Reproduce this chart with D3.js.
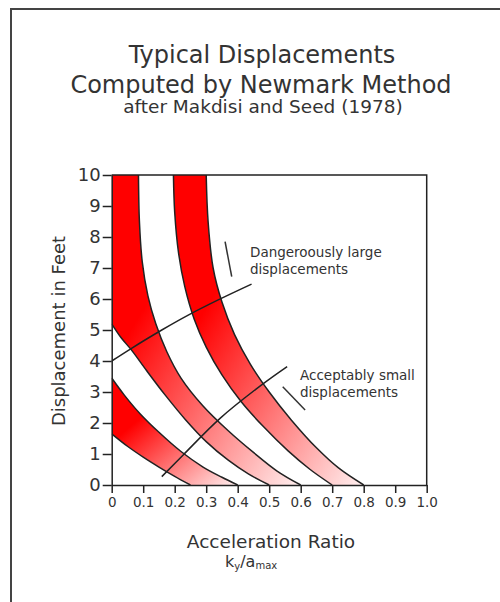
<!DOCTYPE html>
<html>
<head>
    <script src="https://d3js.org/d3.v7.min.js"></script>
    <style>
        body { margin: 0; background: #fff; }
        svg text { font-family: "DejaVu Sans", sans-serif; fill: #333; }
    </style>
</head>
<body>
    <div id="chart"></div>
    <script>
        // curve points: [ky/amax, displacement in feet]
        const band1Lower = [[0, 1.65], [0.05, 1.25], [0.1, 0.9], [0.15, 0.58], [0.2, 0.28], [0.25, 0]];
        const band1Upper = [[0, 3.45], [0.04, 2.9], [0.09, 2.3], [0.15, 1.7], [0.22, 1.08], [0.29, 0.58], [0.35, 0.25], [0.4, 0]];
        const band2Lower = [[0, 5.2], [0.03, 4.75], [0.063, 4.35], [0.11, 3.7], [0.17, 2.9], [0.235, 2.1], [0.3, 1.4], [0.37, 0.8], [0.435, 0.35], [0.5, 0]];
        const band2Upper = [[0.085, 10], [0.088, 8.5], [0.097, 7.2], [0.115, 6.1], [0.14, 5.2], [0.175, 4.3], [0.22, 3.45], [0.29, 2.55], [0.37, 1.75], [0.45, 1.05], [0.525, 0.45], [0.6, 0]];
        const band3Lower = [[0.196, 10], [0.2, 8.8], [0.212, 7.5], [0.232, 6.4], [0.262, 5.35], [0.3, 4.45], [0.35, 3.55], [0.41, 2.7], [0.48, 1.9], [0.56, 1.1], [0.63, 0.5], [0.7, 0]];
        const band3Upper = [[0.30, 10], [0.306, 8.5], [0.322, 7.0], [0.35, 5.9], [0.39, 4.85], [0.44, 3.9], [0.5, 3.0], [0.57, 2.1], [0.65, 1.2], [0.72, 0.55], [0.8, 0]];

        // the two dividing lines and the little leader marks
        const dangerLine = [[0, 4], [0.063, 4.41], [0.159, 5.0], [0.243, 5.48], [0.338, 5.97], [0.444, 6.48]];
        const acceptLine = [[0.159, 0.27], [0.227, 0.97], [0.344, 2.15], [0.476, 3.23], [0.557, 3.82]];
        const dangerMark = [[0.36, 7.85], [0.381, 6.72]];
        const acceptMark = [[0.543, 3.17], [0.614, 2.42]];

        const xTicks = [0, 0.1, 0.2, 0.3, 0.4, 0.5, 0.6, 0.7, 0.8, 0.9, 1.0];
        const xTickLabels = ["0", "0.1", "0.2", "0.3", "0.4", "0.5", "0.6", "0.7", "0.8", "0.9", "1.0"];
        const yTicks = [0, 1, 2, 3, 4, 5, 6, 7, 8, 9, 10];

        function program() {
            const width = 500, height = 602;

            const svg = d3.select("#chart")
                .append("svg")
                .attr("width", width)
                .attr("height", height);

            svg.append("rect").attr("width", width).attr("height", height).attr("fill", "#fff");

            // page frame (top and left only)
            svg.append("path")
                .attr("d", "M11,602 L11,9 L500,9")
                .attr("fill", "none")
                .attr("stroke", "#444")
                .attr("stroke-width", 2);

            const x = d3.scaleLinear().domain([0, 1]).range([111.7, 426.7]);
            const y = d3.scaleLinear().domain([0, 10]).range([485, 175]);

            const defs = svg.append("defs");
            defs.append("clipPath").attr("id", "plotclip")
                .append("rect")
                .attr("x", x(0)).attr("y", y(10))
                .attr("width", x(1) - x(0)).attr("height", y(0) - y(10));

            const grad = defs.append("linearGradient")
                .attr("id", "redfade")
                .attr("x1", 0).attr("y1", 0).attr("x2", 1).attr("y2", 1);
            grad.append("stop").attr("offset", 0.3).attr("stop-color", "#ff0000");
            grad.append("stop").attr("offset", 1).attr("stop-color", "#fff0f0");

            const line = d3.line()
                .x(d => x(d[0]))
                .y(d => y(d[1]))
                .curve(d3.curveCatmullRom.alpha(0.5));

            function bandPath(upper, lower, extra) {
                return line(upper) + line(lower.slice().reverse()).replace(/^M/, "L") + (extra || "") + "Z";
            }

            const plot = svg.append("g").attr("clip-path", "url(#plotclip)");

            const bands = [
                bandPath(band1Upper, band1Lower),
                bandPath(band2Upper, band2Lower, "L" + x(0) + "," + y(10)),
                bandPath(band3Upper, band3Lower)
            ];
            plot.selectAll(".band")
                .data(bands)
                .join("path")
                .attr("class", "band")
                .attr("d", d => d)
                .attr("fill", "url(#redfade)");

            const curves = [band1Lower, band1Upper, band2Lower, band2Upper, band3Lower, band3Upper, dangerLine, acceptLine];
            plot.selectAll(".curve")
                .data(curves)
                .join("path")
                .attr("class", "curve")
                .attr("d", line)
                .attr("fill", "none")
                .attr("stroke", "#222")
                .attr("stroke-width", 1.5);

            svg.selectAll(".mark")
                .data([dangerMark, acceptMark])
                .join("path")
                .attr("class", "mark")
                .attr("d", d3.line().x(d => x(d[0])).y(d => y(d[1])))
                .attr("stroke", "#333")
                .attr("stroke-width", 1.5);

            // axes
            const xAxis = svg.append("g")
                .attr("transform", "translate(0," + y(0) + ")")
                .call(d3.axisBottom(x).tickValues(xTicks).tickFormat((d, i) => xTickLabels[i]).tickSize(8).tickSizeOuter(0).tickPadding(4));
            xAxis.selectAll("text").style("font-size", "13.5px").attr("fill", "#444");

            const yAxis = svg.append("g")
                .attr("transform", "translate(" + x(0) + ",0)")
                .call(d3.axisLeft(y).tickValues(yTicks).tickSize(9).tickSizeOuter(0).tickPadding(2));
            yAxis.selectAll("text").style("font-size", "18px").attr("fill", "#444");

            svg.selectAll(".domain, .tick line").attr("stroke", "#222").attr("stroke-width", 1.5);

            // top and right edges of the plot
            svg.append("path")
                .attr("d", "M" + x(0) + "," + y(10) + "L" + x(1) + "," + y(10) + "L" + x(1) + "," + y(0))
                .attr("fill", "none")
                .attr("stroke", "#222")
                .attr("stroke-width", 1.5);

            // titles
            svg.append("text").attr("x", 262).attr("y", 63).attr("text-anchor", "middle")
                .style("font-size", "24px").text("Typical Displacements");
            svg.append("text").attr("x", 261).attr("y", 93).attr("text-anchor", "middle")
                .style("font-size", "24px").text("Computed by Newmark Method");
            svg.append("text").attr("x", 263).attr("y", 113).attr("text-anchor", "middle")
                .style("font-size", "18.5px").text("after Makdisi and Seed (1978)");

            // axis titles
            svg.append("text")
                .attr("transform", "translate(65,331) rotate(-90)")
                .attr("text-anchor", "middle")
                .style("font-size", "18px")
                .text("Displacement in Feet");
            svg.append("text").attr("x", 271).attr("y", 548).attr("text-anchor", "middle")
                .style("font-size", "18.5px").text("Acceleration Ratio");

            const sub = svg.append("text").attr("x", 225).attr("y", 567).style("font-size", "16px");
            sub.append("tspan").text("k");
            sub.append("tspan").attr("dy", 3).style("font-size", "10px").text("y");
            sub.append("tspan").attr("dy", -3).text("/a");
            sub.append("tspan").attr("dy", 2).style("font-size", "10px").text("max");

            // annotations
            const notes = svg.append("g").style("font-size", "13.5px");
            notes.append("text").attr("x", 250).attr("y", 257).text("Dangeroously large");
            notes.append("text").attr("x", 250).attr("y", 274).text("displacements");
            notes.append("text").attr("x", 300).attr("y", 380).text("Acceptably small");
            notes.append("text").attr("x", 300).attr("y", 397).text("displacements");
        }

        program();
    </script>
</body>
</html>
